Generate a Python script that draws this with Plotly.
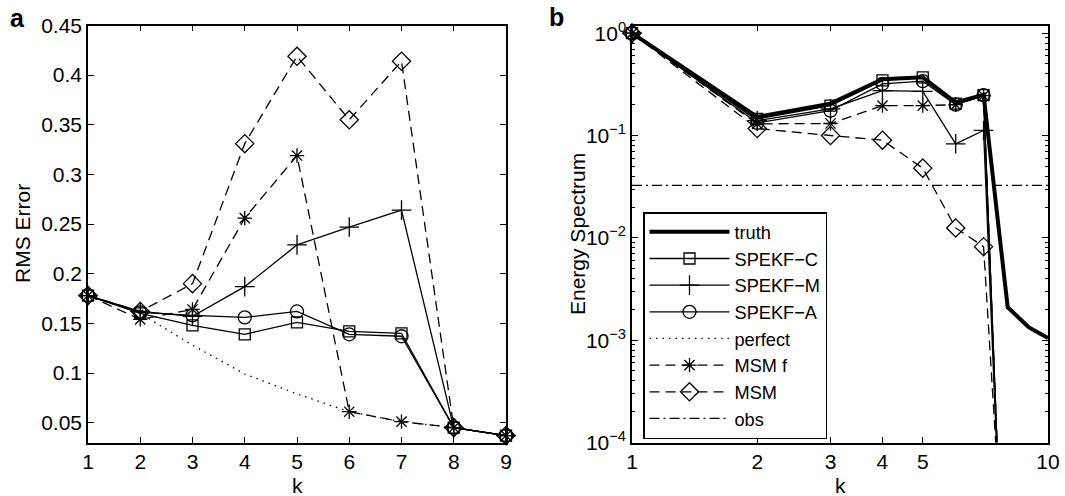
import plotly.graph_objects as go

# ---- panel a: RMS error versus wavenumber k ----
k_rms = [1, 2, 3, 4, 5, 6, 7, 8, 9]
rms_spekf_c = [0.178, 0.160, 0.148, 0.139, 0.151, 0.142, 0.140, 0.045, 0.037]
rms_spekf_m = [0.178, 0.162, 0.157, 0.187, 0.229, 0.247, 0.264, 0.045, 0.037]
rms_spekf_a = [0.178, 0.161, 0.158, 0.156, 0.162, 0.139, 0.137, 0.045, 0.037]
rms_perfect = [0.178, 0.160, 0.128, 0.099, 0.079, 0.061, 0.051, 0.045, 0.037]
rms_msm_f = [0.178, 0.154, 0.164, 0.256, 0.319, 0.061, 0.051, 0.045, 0.037]
rms_msm = [0.178, 0.162, 0.190, 0.331, 0.419, 0.355, 0.414, 0.045, 0.037]

# ---- panel b: energy spectrum versus wavenumber k ----
k_truth = [1, 2, 3, 4, 5, 6, 7, 8, 9, 10]
spec_truth = [1.0, 0.152, 0.205, 0.355, 0.370, 0.210, 0.250, 0.0021, 0.00133, 0.00105]
k_filt = [1, 2, 3, 4, 5, 6, 7, 8]
spec_spekf_c = [1.0, 0.145, 0.196, 0.345, 0.370, 0.205, 0.248, 2e-7]
spec_spekf_m = [1.0, 0.140, 0.182, 0.275, 0.270, 0.083, 0.112, 2e-7]
spec_spekf_a = [1.0, 0.133, 0.175, 0.320, 0.340, 0.200, 0.248, 2e-7]
spec_perfect = spec_truth
spec_msm_f = [1.0, 0.130, 0.131, 0.196, 0.196, 0.200, 0.245, 2e-7]
spec_msm = [1.0, 0.117, 0.100, 0.090, 0.048, 0.0125, 0.0082, 1.3e-6]
k_obs = [1, 10]
spec_obs = [0.0325, 0.0325]

y_tick_vals = [1e-4, 1e-3, 1e-2, 1e-1, 1]
y_tick_text = ["10<sup>−4</sup>", "10<sup>−3</sup>", "10<sup>−2</sup>",
               "10<sup>−1</sup>", "10<sup>0</sup>"]
x_tick_vals_b = [1, 2, 3, 4, 5, 10]

FONT = "Liberation Sans, Arial, Helvetica, sans-serif"
FS = 21
BLACK = "black"
THIN = 1.3
DASH = "10px,6px"
DOT = "1.5px,5px"
DASHDOT = "10px,4px,2px,4px"

styles = {
    "truth": dict(line=dict(color=BLACK, width=4), mode="lines", marker=None),
    "SPEKF−C": dict(line=dict(color=BLACK, width=THIN), mode="lines+markers",
                    marker=dict(symbol="square-open", size=11)),
    "SPEKF−M": dict(line=dict(color=BLACK, width=THIN), mode="lines+markers",
                    marker=dict(symbol="cross-thin-open", size=14)),
    "SPEKF−A": dict(line=dict(color=BLACK, width=THIN), mode="lines+markers",
                    marker=dict(symbol="circle-open", size=13)),
    "perfect": dict(line=dict(color=BLACK, width=THIN, dash=DOT), mode="lines", marker=None),
    "MSM f": dict(line=dict(color=BLACK, width=THIN, dash=DASH), mode="lines+markers",
                  marker=dict(symbol="asterisk-open", size=12)),
    "MSM": dict(line=dict(color=BLACK, width=THIN, dash=DASH), mode="lines+markers",
                marker=dict(symbol="diamond-open", size=14)),
    "obs": dict(line=dict(color=BLACK, width=THIN, dash=DASHDOT), mode="lines", marker=None),
}


def add(fig, name, x, y, xa, ya, legend):
    st = styles[name]
    kw = dict(x=x, y=y, name=name, mode=st["mode"], line=st["line"],
              xaxis=xa, yaxis=ya, showlegend=legend, cliponaxis=False)
    if st["marker"] is not None:
        m = dict(st["marker"])
        m.update(color=BLACK, line=dict(color=BLACK, width=1.3))
        kw["marker"] = m
    fig.add_trace(go.Scatter(**kw))


fig = go.Figure()

# panel a
add(fig, "perfect", k_rms, rms_perfect, "x", "y", False)
add(fig, "MSM f", k_rms, rms_msm_f, "x", "y", False)
add(fig, "MSM", k_rms, rms_msm, "x", "y", False)
add(fig, "SPEKF−C", k_rms, rms_spekf_c, "x", "y", False)
add(fig, "SPEKF−M", k_rms, rms_spekf_m, "x", "y", False)
add(fig, "SPEKF−A", k_rms, rms_spekf_a, "x", "y", False)

# panel b (legend order follows trace order)
add(fig, "truth", k_truth, spec_truth, "x2", "y2", True)
add(fig, "SPEKF−C", k_filt, spec_spekf_c, "x2", "y2", True)
add(fig, "SPEKF−M", k_filt, spec_spekf_m, "x2", "y2", True)
add(fig, "SPEKF−A", k_filt, spec_spekf_a, "x2", "y2", True)
add(fig, "perfect", k_truth, spec_perfect, "x2", "y2", True)
add(fig, "MSM f", k_filt, spec_msm_f, "x2", "y2", True)
add(fig, "MSM", k_filt, spec_msm, "x2", "y2", True)
add(fig, "obs", k_obs, spec_obs, "x2", "y2", True)

W, H = 1065, 496
y_dom = [(H - 442.5) / H, (H - 25.5) / H]

axis_common = dict(showline=True, linecolor=BLACK, linewidth=1.5, mirror="allticks",
                   ticks="inside", ticklen=6, tickwidth=1, tickcolor=BLACK,
                   showgrid=False, zeroline=False, automargin=False,
                   tickfont=dict(family=FONT, size=FS, color=BLACK))


def label(text, x, y, angle=0, size=FS):
    # x, y given in pixels from the top-left corner of the figure
    return dict(text=text, x=x / W, y=1 - y / H, xref="paper", yref="paper",
                xanchor="center", yanchor="middle", showarrow=False, textangle=angle,
                font=dict(family=FONT, size=size, color=BLACK))


fig.update_layout(
    width=W, height=H, autosize=False,
    margin=dict(l=0, r=0, t=0, b=0, pad=0, autoexpand=False),
    paper_bgcolor="white", plot_bgcolor="white",
    font=dict(family=FONT, size=FS, color=BLACK),
    xaxis=dict(domain=[88 / W, 506 / W], range=[1, 9], tickvals=k_rms, **axis_common),
    yaxis=dict(domain=y_dom, range=[0.03, 0.45],
               tickvals=[0.05, 0.1, 0.15, 0.2, 0.25, 0.3, 0.35, 0.4, 0.45],
               ticktext=["0.05", "0.1", "0.15", "0.2", "0.25", "0.3", "0.35", "0.4", "0.45"],
               **axis_common),
    xaxis2=dict(domain=[632 / W, 1048 / W], type="log", range=[0, 1],
                tickvals=x_tick_vals_b, ticktext=[str(v) for v in x_tick_vals_b],
                anchor="y2", **axis_common),
    yaxis2=dict(domain=y_dom, type="log", range=[-4, 0.075],
                tickvals=y_tick_vals, ticktext=y_tick_text, anchor="x2",
                minor=dict(ticks="inside", ticklen=3, tickcolor=BLACK, showgrid=False,
                           tickvals=[m * 10.0 ** e for e in range(-4, 0) for m in range(2, 10)]),
                **axis_common),
    legend=dict(x=643 / W, y=1 - 212 / H, xanchor="left", yanchor="top",
                bgcolor="white", bordercolor=BLACK, borderwidth=1.5,
                font=dict(family=FONT, size=18.2, color=BLACK),
                itemwidth=80, tracegroupgap=0),
    annotations=[
        label("<b>a</b>", 17, 18, size=25),
        label("<b>b</b>", 556, 17, size=25),
        label("RMS Error", 22, 234, angle=-90),
        label("Energy Spectrum", 577, 234, angle=-90),
        label("k", 297, 485),
        label("k", 840, 485),
    ],
)

fig.write_html("out.html")
